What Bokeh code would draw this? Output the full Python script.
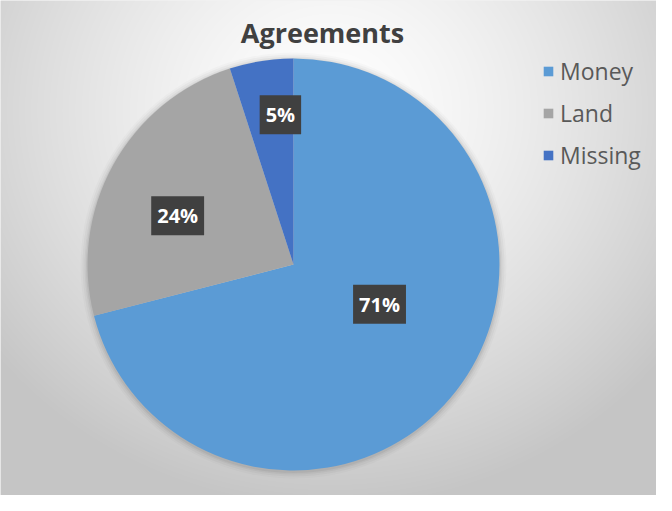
import numpy as np
from bokeh.plotting import figure
from bokeh.models import ColumnDataSource, Label, Legend, LegendItem
from bokeh.embed import file_html
from bokeh.resources import INLINE

# ---- data ----
categories = ["Money", "Land", "Missing"]
values = [71, 24, 5]
labels = ["71%", "24%", "5%"]
colors = ["#5B9BD5", "#A5A5A5", "#4472C4"]

# ---- style / layout ----
W, H = 656, 495
cx, cy, R = 293, 231, 206
label_r_frac = [0.46, 0.61, 0.73]
label_ang_off = [13.0, 6.0, -4.0]  # degrees, best-fit style offsets

p = figure(width=W, height=H, output_backend="svg", toolbar_location=None,
           x_range=(0, W), y_range=(0, H), min_border=0,
           outline_line_color=None)
p.axis.visible = False
p.grid.visible = False
p.background_fill_color = "#e6e6e6"
p.border_fill_color = "#e6e6e6"

# background radial gradient (decoration)
ys, xs = np.mgrid[0:H, 0:W]
X = xs + 0.5
Y = H - (ys + 0.5)
d = np.sqrt(((X - 330) / 430.0) ** 2 + ((Y - 110) / 400.0) ** 2)
g = 255 - 58 * np.clip(d, 0, 1) ** 1.4
img = np.zeros((H, W), dtype=np.uint32)
view = img.view(dtype=np.uint8).reshape((H, W, 4))
gi = g.astype(np.uint8)
view[:, :, 0] = gi
view[:, :, 1] = gi
view[:, :, 2] = gi
view[:, :, 3] = 255
p.image_rgba(image=[img], x=0, y=0, dw=W, dh=H)

# soft shadow around pie
for k, a in [(7, 0.02), (5, 0.03), (3, 0.04), (1.5, 0.05)]:
    p.circle(x=cx, y=cy - 1, radius=R + k, fill_color="#000000", fill_alpha=a,
             line_color=None)

# wedges: start at 12 o'clock, clockwise
vals = np.array(values, dtype=float)
fr = vals / vals.sum()
cum = np.concatenate([[0], np.cumsum(fr)])
start = np.pi / 2 - 2 * np.pi * cum[:-1]
end = np.pi / 2 - 2 * np.pi * cum[1:]
renderers = []
for i in range(len(categories)):
    r = p.wedge(x=cx, y=cy, radius=R, start_angle=start[i], end_angle=end[i],
                direction="clock", fill_color=colors[i], line_color=None)
    renderers.append(r)

# data labels
mid = (start + end) / 2
for i in range(len(categories)):
    ang = mid[i] + np.deg2rad(label_ang_off[i])
    lx = cx + R * label_r_frac[i] * np.cos(ang)
    ly = cy + R * label_r_frac[i] * np.sin(ang)
    p.add_layout(Label(x=lx, y=ly, text=labels[i], text_align="center",
                       text_baseline="middle", text_color="white",
                       text_font="Open Sans", text_font_style="bold",
                       text_font_size="20px",
                       background_fill_color="#404040", background_fill_alpha=1.0,
                       padding=6))

# title
p.add_layout(Label(x=322, y=463, text="Agreements", text_align="center",
                   text_baseline="middle", text_color="#404040",
                   text_font="Open Sans", text_font_style="bold",
                   text_font_size="27px"))

# legend
legend = Legend(items=[LegendItem(label=categories[i], renderers=[renderers[i]])
                       for i in range(len(categories))],
                location=(542, 324), orientation="vertical",
                glyph_width=12, glyph_height=12, label_text_font="Open Sans",
                label_text_font_size="23px", label_text_color="#595959",
                spacing=10, padding=0, margin=0, label_standoff=6,
                background_fill_alpha=0, border_line_alpha=0)
p.add_layout(legend)

open("out.html", "w").write(file_html(p, INLINE))
